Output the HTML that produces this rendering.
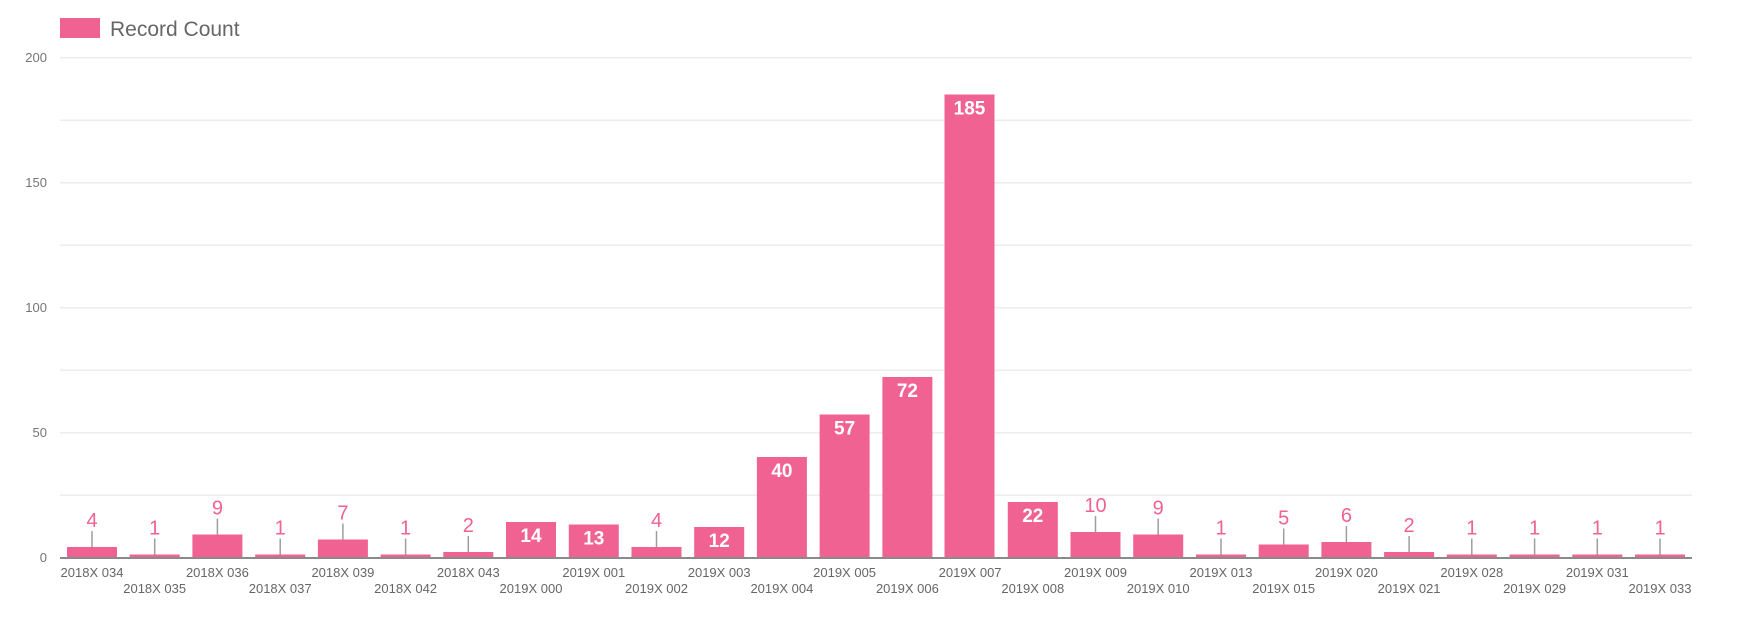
<!DOCTYPE html>
<html><head><meta charset="utf-8"><style>
html,body{margin:0;padding:0;background:#fff;}
svg{display:block;font-family:"Liberation Sans",sans-serif;}
.yl{font-size:13px;fill:#757575;text-anchor:end;}
.xl{font-size:13px;fill:#666;text-anchor:middle;}
.ov{font-size:20px;fill:#f06292;text-anchor:middle;}
.iv{font-size:19px;fill:#fff;text-anchor:middle;font-weight:bold;}
.g{stroke:#ececec;stroke-width:1.5;}
.t{stroke:#9e9e9e;stroke-width:1.5;}
rect.b{fill:#f06292;}
</style></head><body>
<svg width="1760" height="618" viewBox="0 0 1760 618">
<rect x="60" y="18" width="40" height="20" fill="#f06292"/>
<text x="110" y="36" font-size="21" fill="#666">Record Count</text>
<g>
<line class="g" x1="60" x2="1692" y1="57.7" y2="57.7"/>
<line class="g" x1="60" x2="1692" y1="120.2" y2="120.2"/>
<line class="g" x1="60" x2="1692" y1="182.7" y2="182.7"/>
<line class="g" x1="60" x2="1692" y1="245.2" y2="245.2"/>
<line class="g" x1="60" x2="1692" y1="307.7" y2="307.7"/>
<line class="g" x1="60" x2="1692" y1="370.2" y2="370.2"/>
<line class="g" x1="60" x2="1692" y1="432.7" y2="432.7"/>
<line class="g" x1="60" x2="1692" y1="495.2" y2="495.2"/>
</g>
<text class="yl" x="47" y="62">200</text>
<text class="yl" x="47" y="187">150</text>
<text class="yl" x="47" y="312">100</text>
<text class="yl" x="47" y="437">50</text>
<text class="yl" x="47" y="562">0</text>

<!-- bars -->
<rect class="b" x="67" y="547" width="50" height="10"/>
<rect class="b" x="129.7" y="554.5" width="50" height="2.5"/>
<rect class="b" x="192.4" y="534.5" width="50" height="22.5"/>
<rect class="b" x="255.2" y="554.5" width="50" height="2.5"/>
<rect class="b" x="317.9" y="539.5" width="50" height="17.5"/>
<rect class="b" x="380.6" y="554.5" width="50" height="2.5"/>
<rect class="b" x="443.3" y="552" width="50" height="5"/>
<rect class="b" x="506" y="522" width="50" height="35"/>
<rect class="b" x="568.8" y="524.5" width="50" height="32.5"/>
<rect class="b" x="631.5" y="547" width="50" height="10"/>
<rect class="b" x="694.2" y="527" width="50" height="30"/>
<rect class="b" x="756.9" y="457" width="50" height="100"/>
<rect class="b" x="819.6" y="414.5" width="50" height="142.5"/>
<rect class="b" x="882.4" y="377" width="50" height="180"/>
<rect class="b" x="944.5" y="94.5" width="50" height="462.5"/>
<rect class="b" x="1007.8" y="502" width="50" height="55"/>
<rect class="b" x="1070.5" y="532" width="50" height="25"/>
<rect class="b" x="1133.2" y="534.5" width="50" height="22.5"/>
<rect class="b" x="1196" y="554.5" width="50" height="2.5"/>
<rect class="b" x="1258.7" y="544.5" width="50" height="12.5"/>
<rect class="b" x="1321.4" y="542" width="50" height="15"/>
<rect class="b" x="1384.1" y="552" width="50" height="5"/>
<rect class="b" x="1446.8" y="554.5" width="50" height="2.5"/>
<rect class="b" x="1509.6" y="554.5" width="50" height="2.5"/>
<rect class="b" x="1572.3" y="554.5" width="50" height="2.5"/>
<rect class="b" x="1635" y="554.5" width="50" height="2.5"/>

<!-- outside labels -->
<line class="t" x1="92" x2="92" y1="547" y2="531"/><text class="ov" x="92" y="527">4</text>
<line class="t" x1="154.7" x2="154.7" y1="554.5" y2="538.5"/><text class="ov" x="154.7" y="534.5">1</text>
<line class="t" x1="217.4" x2="217.4" y1="534.5" y2="518.5"/><text class="ov" x="217.4" y="514.5">9</text>
<line class="t" x1="280.2" x2="280.2" y1="554.5" y2="538.5"/><text class="ov" x="280.2" y="534.5">1</text>
<line class="t" x1="342.9" x2="342.9" y1="539.5" y2="523.5"/><text class="ov" x="342.9" y="519.5">7</text>
<line class="t" x1="405.6" x2="405.6" y1="554.5" y2="538.5"/><text class="ov" x="405.6" y="534.5">1</text>
<line class="t" x1="468.3" x2="468.3" y1="552" y2="536"/><text class="ov" x="468.3" y="532">2</text>
<line class="t" x1="656.5" x2="656.5" y1="547" y2="531"/><text class="ov" x="656.5" y="527">4</text>
<line class="t" x1="1095.5" x2="1095.5" y1="532" y2="516"/><text class="ov" x="1095.5" y="512">10</text>
<line class="t" x1="1158.2" x2="1158.2" y1="534.5" y2="518.5"/><text class="ov" x="1158.2" y="514.5">9</text>
<line class="t" x1="1221" x2="1221" y1="554.5" y2="538.5"/><text class="ov" x="1221" y="534.5">1</text>
<line class="t" x1="1283.7" x2="1283.7" y1="544.5" y2="528.5"/><text class="ov" x="1283.7" y="524.5">5</text>
<line class="t" x1="1346.4" x2="1346.4" y1="542" y2="526"/><text class="ov" x="1346.4" y="522">6</text>
<line class="t" x1="1409.1" x2="1409.1" y1="552" y2="536"/><text class="ov" x="1409.1" y="532">2</text>
<line class="t" x1="1471.8" x2="1471.8" y1="554.5" y2="538.5"/><text class="ov" x="1471.8" y="534.5">1</text>
<line class="t" x1="1534.6" x2="1534.6" y1="554.5" y2="538.5"/><text class="ov" x="1534.6" y="534.5">1</text>
<line class="t" x1="1597.3" x2="1597.3" y1="554.5" y2="538.5"/><text class="ov" x="1597.3" y="534.5">1</text>
<line class="t" x1="1660" x2="1660" y1="554.5" y2="538.5"/><text class="ov" x="1660" y="534.5">1</text>

<!-- inside labels -->
<text class="iv" x="531" y="542">14</text>
<text class="iv" x="593.8" y="544.5">13</text>
<text class="iv" x="719.2" y="547">12</text>
<text class="iv" x="781.9" y="477">40</text>
<text class="iv" x="844.6" y="434.5">57</text>
<text class="iv" x="907.4" y="397">72</text>
<text class="iv" x="969.5" y="114.5">185</text>
<text class="iv" x="1032.8" y="522">22</text>

<line x1="60" x2="1692" y1="558" y2="558" stroke="#8a8a8a" stroke-width="2"/>

<!-- category labels -->
<text class="xl" x="92" y="577">2018X 034</text>
<text class="xl" x="154.7" y="593">2018X 035</text>
<text class="xl" x="217.4" y="577">2018X 036</text>
<text class="xl" x="280.2" y="593">2018X 037</text>
<text class="xl" x="342.9" y="577">2018X 039</text>
<text class="xl" x="405.6" y="593">2018X 042</text>
<text class="xl" x="468.3" y="577">2018X 043</text>
<text class="xl" x="531" y="593">2019X 000</text>
<text class="xl" x="593.8" y="577">2019X 001</text>
<text class="xl" x="656.5" y="593">2019X 002</text>
<text class="xl" x="719.2" y="577">2019X 003</text>
<text class="xl" x="781.9" y="593">2019X 004</text>
<text class="xl" x="844.6" y="577">2019X 005</text>
<text class="xl" x="907.4" y="593">2019X 006</text>
<text class="xl" x="970.1" y="577">2019X 007</text>
<text class="xl" x="1032.8" y="593">2019X 008</text>
<text class="xl" x="1095.5" y="577">2019X 009</text>
<text class="xl" x="1158.2" y="593">2019X 010</text>
<text class="xl" x="1221" y="577">2019X 013</text>
<text class="xl" x="1283.7" y="593">2019X 015</text>
<text class="xl" x="1346.4" y="577">2019X 020</text>
<text class="xl" x="1409.1" y="593">2019X 021</text>
<text class="xl" x="1471.8" y="577">2019X 028</text>
<text class="xl" x="1534.6" y="593">2019X 029</text>
<text class="xl" x="1597.3" y="577">2019X 031</text>
<text class="xl" x="1660" y="593">2019X 033</text>
</svg>
</body></html>
